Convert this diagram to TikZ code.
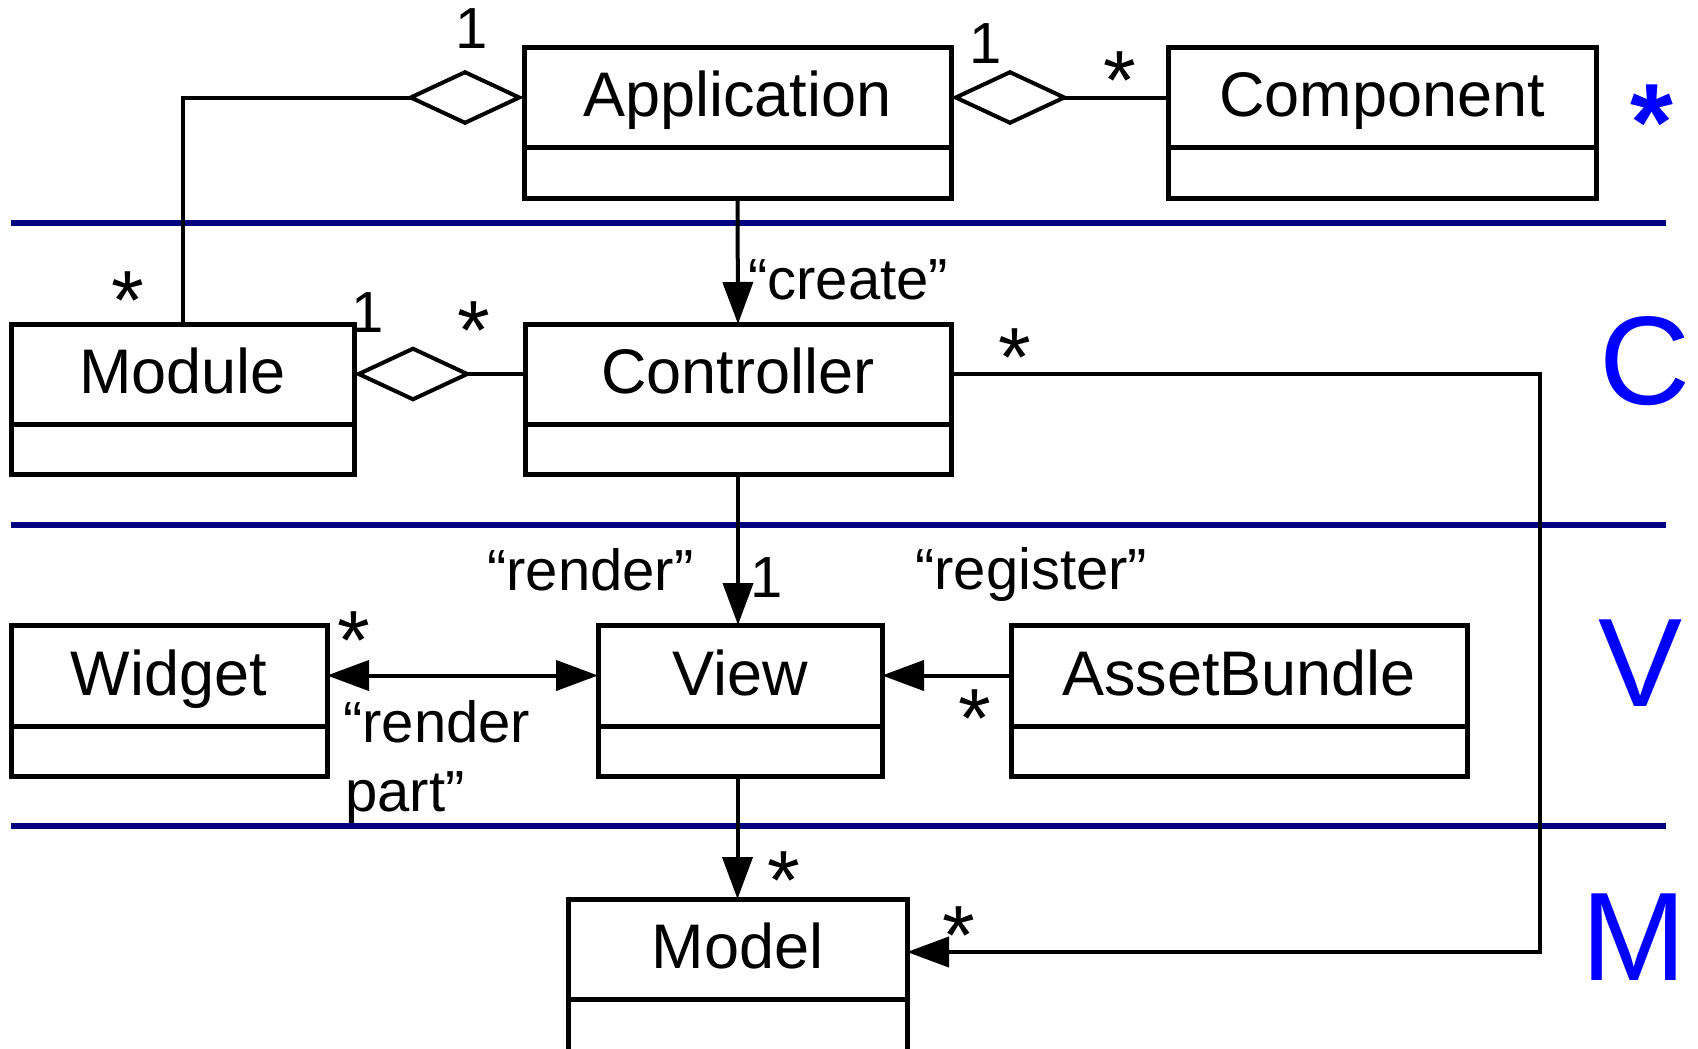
\documentclass[tikz,border=0pt]{standalone}
\usepackage{fontspec}
\setmainfont{Liberation Sans}
\usetikzlibrary{arrows.meta}
\definecolor{navy}{RGB}{0,0,128}
\definecolor{tierblue}{RGB}{0,0,255}
\begin{document}
\begin{tikzpicture}[x=1pt,y=-1pt,
  cls/.style={draw, line width=5pt, inner sep=0pt, outer sep=0pt, rectangle, anchor=north},
  divline/.style={line width=5pt},
  cname/.style={font=\fontsize{63}{70}\selectfont, inner sep=0pt, text height=39pt, text depth=0pt},
  lbl/.style={font=\fontsize{58}{66}\selectfont, inner sep=0pt, anchor=base west},
  mult/.style={font=\fontsize{58}{66}\selectfont, inner sep=0pt, anchor=north},
  star/.style={font=\fontsize{84}{90}\selectfont, inner sep=0pt, anchor=north},
  conn/.style={line width=4pt},
  arr/.style={conn, -{Triangle[length=42pt,width=30pt]}},
  dblarr/.style={conn, {Triangle[length=42pt,width=30pt]}-{Triangle[length=42pt,width=30pt]}},
  agg/.style={conn, {Diamond[open,length=118pt,width=55pt]}-},
  layer/.style={line width=6pt, draw=navy},
  tier/.style={text=tierblue, font=\fontsize{126}{130}\selectfont, inner sep=0pt, anchor=base}
]
\useasboundingbox (0,0) rectangle (1698,1049);

% layer separators
\draw[layer] (11,223) -- (1666,223);
\draw[layer] (11,525) -- (1666,525);
\draw[layer] (11,826) -- (1666,826);

% tier letters
\node[tier, font=\bfseries\fontsize{110}{120}\selectfont, anchor=north] (tStar) at (1652,85) {*};
\node[tier] (tC) at (1645,404) {C};
\node[tier] (tV) at (1641,706) {V};
\node[tier] (tM) at (1634,980) {M};

% classes
\node[cls, minimum width=427pt, minimum height=150pt] (app) at (737.5,48) {};
\draw[divline] ([yshift=-99pt]app.north west) -- ([yshift=-99pt]app.north east);
\node[cname] (appN) at (737.5,97.5) {Application};

\node[cls, minimum width=428pt, minimum height=150pt] (comp) at (1382,48) {};
\draw[divline] ([yshift=-99pt]comp.north west) -- ([yshift=-99pt]comp.north east);
\node[cname] (compN) at (1382,97.5) {Component};

\node[cls, minimum width=343pt, minimum height=150pt] (mod) at (182.5,324) {};
\draw[divline] ([yshift=-100pt]mod.north west) -- ([yshift=-100pt]mod.north east);
\node[cname] (modN) at (182.5,374) {Module};

\node[cls, minimum width=426pt, minimum height=150pt] (ctrl) at (738,324) {};
\draw[divline] ([yshift=-100pt]ctrl.north west) -- ([yshift=-100pt]ctrl.north east);
\node[cname] (ctrlN) at (738,374) {Controller};

\node[cls, minimum width=316pt, minimum height=151pt] (wid) at (169,625) {};
\draw[divline] ([yshift=-101pt]wid.north west) -- ([yshift=-101pt]wid.north east);
\node[cname] (widN) at (169,675.5) {Widget};

\node[cls, minimum width=284pt, minimum height=151pt] (view) at (740,625) {};
\draw[divline] ([yshift=-101pt]view.north west) -- ([yshift=-101pt]view.north east);
\node[cname] (viewN) at (740,675.5) {View};

\node[cls, minimum width=456pt, minimum height=151pt] (asset) at (1239,625) {};
\draw[divline] ([yshift=-101pt]asset.north west) -- ([yshift=-101pt]asset.north east);
\node[cname] (assetN) at (1239,675.5) {AssetBundle};

\node[cls, minimum width=339pt, minimum height=170pt] (model) at (737.5,899) {};
\draw[divline] ([yshift=-100pt]model.north west) -- ([yshift=-100pt]model.north east);
\node[cname] (modelN) at (737.5,949) {Model};

% connectors
\draw[agg] (app.west |- appN) -- (mod.north |- appN) -- (mod.north);
\draw[agg] (app.east |- appN) -- (comp.west |- appN);
\draw[arr] (app.south) -- (ctrl.north);
\draw[agg] (mod.east |- modN) -- (ctrl.west |- modN);
\coordinate (bend) at (1540,952);
\draw[arr] (ctrl.east |- ctrlN) -| (bend) -- (model.east |- bend);
\draw[arr] (ctrl.south) -- (ctrl.south |- view.north);
\draw[dblarr] (wid.east |- widN) -- (view.west |- widN);
\draw[arr] (asset.west |- assetN) -- (view.east |- assetN);
\draw[arr] (model.north |- view.south) -- (model.north);

% multiplicities
\node[mult] (m1) at (471.5,8) {1};
\node[star] (s1) at (127.5,272) {*};
\node[mult] (m2) at (986,23) {1};
\node[star] (s2) at (1120,52) {*};
\node[mult] (m3) at (368,292) {1};
\node[star] (s3) at (473.5,302) {*};
\node[star] (s4) at (1015,329) {*};
\node[mult] (m4) at (767,557) {1};
\node[star] (s5) at (353.5,612) {*};
\node[star] (s6) at (975,690) {*};
\node[star] (s7) at (783.5,852) {*};
\node[star] (s8) at (958.5,906) {*};

% labels
\node[lbl] (lCreate) at (748,299) {“create”};
\node[lbl] (lRender) at (487,590) {“render”};
\node[lbl] (lRegister) at (915,589) {“register”};
\node[lbl] (lRP1) at (343,742) {“render};
\node[lbl] (lRP2) at (345,811) {part”};
\end{tikzpicture}
\end{document}
